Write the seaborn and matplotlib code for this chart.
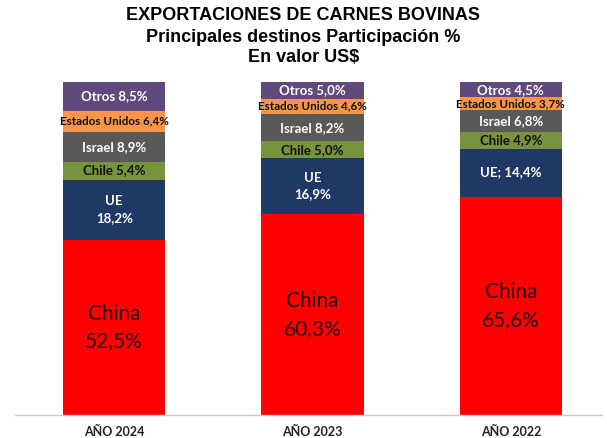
import matplotlib.pyplot as plt
import numpy as np
import pandas as pd
import seaborn as sns

# data
years = ["AÑO 2024", "AÑO 2023", "AÑO 2022"]
categories = ["China", "UE", "Chile", "Israel", "Estados Unidos", "Otros"]
china = [52.5, 60.3, 65.6]
ue = [18.2, 16.9, 14.4]
chile = [5.4, 5.0, 4.9]
israel = [8.9, 8.2, 6.8]
eeuu = [6.4, 4.6, 3.7]
otros = [8.5, 5.0, 4.5]

colors = {
    "China": "#FF0000",
    "UE": "#1F3864",
    "Chile": "#77933C",
    "Israel": "#595959",
    "Estados Unidos": "#F79646",
    "Otros": "#604A7B",
}
text_colors = {
    "China": "#2a0000",
    "UE": "white",
    "Chile": "#111111",
    "Israel": "white",
    "Estados Unidos": "#111111",
    "Otros": "white",
}

series = [china, ue, chile, israel, eeuu, otros]
df = pd.DataFrame({c: v for c, v in zip(categories, series)}, index=years)
cum = df.cumsum(axis=1)

sns.set_style("white")
plt.rcParams["font.family"] = ["Lato", "DejaVu Sans"]

fig = plt.figure(figsize=(6.07, 4.38), dpi=100)
ax = fig.add_axes([15 / 607, 23 / 438, 587 / 607, 333 / 438])

# draw cumulative bars from top to bottom so each hides the one below
for cat in reversed(categories):
    sns.barplot(
        x=years,
        y=cum[cat].values,
        color=colors[cat],
        width=0.515,
        order=years,
        saturation=1,
        ax=ax,
        linewidth=0,
    )

# segment labels
for i, year in enumerate(years):
    for cat in categories:
        val = df.loc[year, cat]
        mid = cum.loc[year, cat] - val / 2
        txt = f"{val:.1f}".replace(".", ",") + "%"
        if cat == "China":
            label = f"China\n{txt}"
            size = 15
            weight = "normal"
        elif cat == "UE":
            label = f"UE; {txt}" if year == "AÑO 2022" else f"UE\n{txt}"
            size = 9.5
            weight = "bold"
        elif cat == "Estados Unidos":
            label = f"{cat} {txt}"
            size = 8.4
            weight = "bold"
        else:
            label = f"{cat} {txt}"
            size = 9.5
            weight = "bold"
        ax.text(i, mid, label, ha="center", va="center", fontsize=size,
                fontweight=weight, color=text_colors[cat], linespacing=1.5)

ax.set_xlim(-0.5, 2.46)
ax.set_ylim(0, 100)
ax.set_yticks([])
ax.set_ylabel("")
ax.tick_params(axis="x", length=0, pad=8, labelsize=9)
for lbl in ax.get_xticklabels():
    lbl.set_fontweight("bold")
    lbl.set_color("#222222")
for s in ["top", "right", "left"]:
    ax.spines[s].set_visible(False)
ax.spines["bottom"].set_color("#C8C8C8")
ax.spines["bottom"].set_linewidth(1)

# title
title_font = ["Liberation Sans", "DejaVu Sans"]
fig.text(0.5, 1 - 16 / 438, "EXPORTACIONES DE CARNES BOVINAS", ha="center",
         va="center", fontsize=13, fontweight="bold", family=title_font,
         color="black")
fig.text(0.5, 1 - 37 / 438, "Principales destinos Participación %", ha="center",
         va="center", fontsize=13, fontweight="bold", family=title_font,
         color="black")
fig.text(0.5, 1 - 58 / 438, "En valor US$", ha="center",
         va="center", fontsize=13, fontweight="bold", family=title_font,
         color="black")

fig.savefig("out.png", dpi=100)
